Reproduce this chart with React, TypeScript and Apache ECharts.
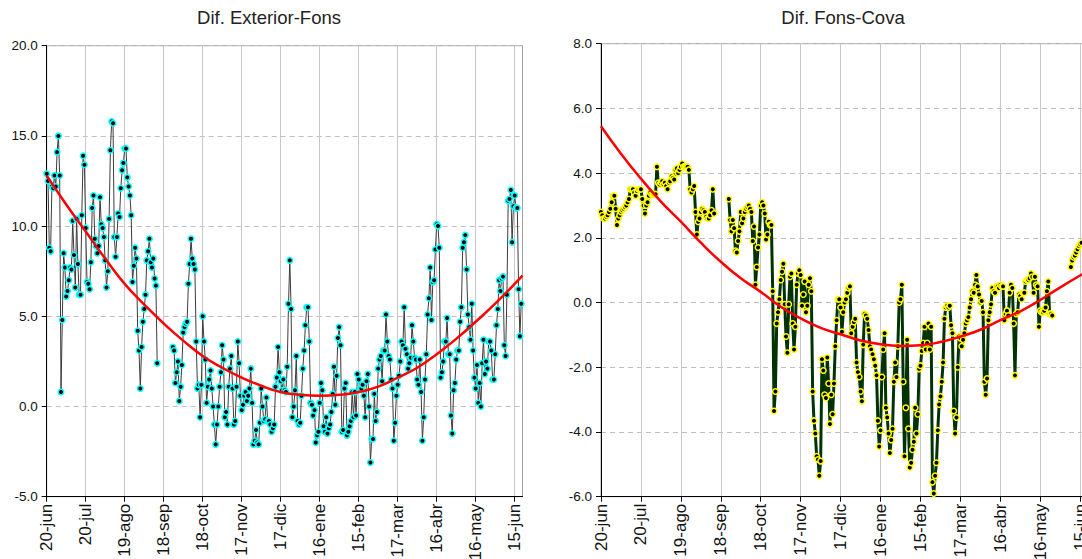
import React, { useEffect, useRef } from "react";
import * as echarts from "echarts";

// x axis: days counted from 20-jun (day 0)
const tickDays = [0, 30, 60, 90, 120, 150, 180, 210, 240, 270, 300, 330, 360];
const tickLabels = [
  "20-jun", "20-jul", "19-ago", "18-sep", "18-oct", "17-nov", "17-dic",
  "16-ene", "15-feb", "17-mar", "16-abr", "16-may", "15-jun",
];

// Dif. Exterior-Fons, one value per day (null = no data)
const exteriorFons: (number | null)[] = [
  12.9, 12.5, 8.8, 8.6, 12.2, 12.1, 12.8, 12.2, 14.1, 15.0,
  12.8, 0.8, 4.8, 8.5, 7.7, 6.1, 6.4, 7.0, 7.7, 7.6,
  10.3, 8.4, 6.6, 10.4, 7.9, 6.2, 6.2, 10.6, 13.9, 13.4,
  9.9, 6.9, 6.8, 6.5, 8.0, 11.0, 11.7, 9.3, 8.9, 8.5,
  8.9, 11.6, 10.1, 9.9, 9.4, 8.1, 6.6, 7.5, 10.4, 14.2,
  15.8, 15.7, 9.4, 8.3, 9.4, 10.7, 10.5, 12.1, 13.1, 13.5,
  14.3, 14.3, 12.7, 12.2, 11.7, 10.6, 6.9, 7.8, 8.8, 8.2,
  4.2, 3.1, 1.0, 3.3, 4.7, 5.4, 6.2, 8.1, 8.6, 9.3,
  8.0, 7.7, 8.2, 7.1, 6.7, 2.4, null, null, null, null,
  null, null, null, null, null, null, null, 3.3, 3.1, 1.3,
  1.9, 2.5, 0.3, 1.1, 2.3, 4.1, 4.4, 4.6, 4.7, 6.8,
  7.9, 9.3, 8.2, 7.9, 7.6, 3.6, 1.0, 1.2, -0.6, 1.2,
  5.0, 3.6, 2.6, 0.2, 1.1, 1.5, 2.0, 1.0, 0.0, -1.0,
  -2.1, -1.0, 0.0, 1.1, 1.9, 3.4, 2.6, -0.6, -0.3, -1.0,
  1.1, 2.1, 2.8, 1.0, -1.0, -0.8, 1.1, 3.6, 2.4, 0.6,
  -0.2, 0.1, 0.6, 0.8, 0.3, 0.6, 1.0, 2.1, 0.2, -2.1,
  -1.9, -1.3, -2.0, -2.1, -0.9, 1.0, 0.0, -0.8, -0.7, 0.5,
  -0.8, -0.8, -1.0, -1.4, -1.2, -1.0, 1.1, 1.6, 3.3, 1.9,
  1.4, 0.9, 1.5, 0.9, 0.8, 2.2, 5.7, 8.1, 5.4, -0.6,
  0.0, 0.9, 2.8, -0.8, -1.0, -0.9, 0.6, 2.1, 3.1, 4.5,
  5.5, 5.5, 3.6, 0.2, 0.1, -0.5, -0.2, -2.0, -1.6, -1.4,
  0.2, 1.3, 0.9, -1.1, -1.4, -0.6, -1.5, -1.2, -1.0, -0.3,
  0.7, 2.2, 0.1, 1.7, 3.8, 4.4, 3.4, -1.4, -1.3, 1.0,
  1.3, -1.6, -1.4, -1.1, -0.8, 0.8, -0.6, 0.8, -0.5, 1.8,
  1.5, 1.0, 1.0, 1.2, 0.6, -0.6, 1.4, 1.8, 0.0, -3.1,
  -1.8, -1.8, 0.7, -0.8, -0.3, 2.1, 2.6, 2.8, 1.4, 3.1,
  3.1, 5.1, 3.6, 2.8, 2.6, 1.5, 1.0, -1.9, -0.9, 0.6,
  1.2, 1.7, 2.5, 3.6, 3.4, 5.5, 3.2, 2.9, 2.1, 2.4,
  2.7, 4.5, 3.6, 2.7, 2.6, 1.5, 1.2, 2.6, 0.8, -1.9,
  -0.6, 1.5, 2.9, 5.1, 6.0, 7.7, 4.8, 6.9, 7.0, 8.7,
  10.1, 10.0, 8.8, 1.6, 1.9, 2.5, 3.6, 3.6, 4.9, 2.9,
  2.9, -0.5, -1.5, 0.9, 1.3, 2.6, 3.1, 3.1, 4.7, 5.5,
  8.8, 9.1, 9.5, 7.6, 5.1, 4.4, 3.7, 5.7, 3.1, 1.6,
  1.0, 2.3, 0.2, 1.3, 0.0, 2.4, 3.7, 1.8, 2.5, 2.1,
  3.6, 3.6, 3.1, 1.5, 1.5, 2.9, 4.5, 5.4, 7.0, 6.4,
  7.1, 7.2, 3.4, 2.8, 6.2, 11.4, 11.5, 12.0, 9.1, 11.1,
  11.7, 11.0, 11.0, 6.5, 3.9, 5.7,
];

// Dif. Fons-Cova, one value per day (null = no data)
const fonsCova: (number | null)[] = [
  2.8, 2.7, 2.6, 2.6, 2.65, 2.7, 2.8, 2.9, 3.1, 3.3,
  3.3, 2.9, 2.4, 2.6, 2.7, 2.8, 2.85, 2.9, 2.95, 3.0,
  3.1, 3.2, 3.5, 3.5, 3.5, 3.4, 3.3, 3.45, 3.5, 3.5,
  3.5, 3.2, 3.0, 2.75, 3.0, 3.1, 3.3, 3.4, 3.35, 3.35,
  3.35, 3.35, 4.2, 3.7, 3.65, 3.7, 3.75, 3.65, 3.7, 3.6,
  3.5, 3.7, 3.75, 3.9, 3.85, 3.8, 4.1, 4.15, 4.0, 4.1,
  4.2, 4.3, 4.2, 4.2, 4.2, 4.2, 4.1, 3.5, 3.4, 3.5,
  3.6, 2.8, 2.1, 2.5, 2.6, 2.8, 2.9, 2.85, 2.8, 2.65,
  2.6, 2.6, 2.7, 2.85, 3.5, 2.75, null, null, null, null,
  null, null, null, null, null, null, 3.2, 2.55, 2.2, 2.55,
  2.3, 1.6, 1.55, 1.9, 2.2, 2.8, 2.45, 2.6, 2.8, 2.9,
  2.95, 3.0, 2.9, 2.8, 1.9, 2.35, 0.55, 1.1, 1.7, 2.1,
  3.0, 3.1, 3.0, 2.75, 1.95, 2.1, 2.5, 2.4, 2.4, 0.35,
  -3.35, -2.75, -0.65, -0.3, 0.1, 0.7, 0.95, 1.2, -0.05, -1.05,
  -1.55, -0.05, 0.8, 0.9, -0.65, -1.45, -0.75, 0.55, 0.9, 1.0,
  0.85, -0.1, 0.25, 0.65, -0.3, -0.1, 0.55, 0.75, 0.35, -2.75,
  -3.65, -4.05, -4.75, -4.85, -5.35, -4.9, -1.75, -2.1, -2.85, -2.95,
  -1.7, -2.5, -3.75, -2.85, -3.45, -2.5, -1.35, -0.55, 0.1, 0.1,
  -0.15, -0.9, -0.3, 0.0, 0.1, 0.3, 0.45, 0.5, -0.95, -0.75,
  -0.6, -0.5, -1.85, -2.15, -2.3, -2.75, -3.05, -1.3, -0.35, -0.4,
  -0.5, -0.85, -1.35, -1.45, -1.6, -1.75, -1.95, -2.25, -3.65, -4.45,
  -3.95, -2.3, -1.45, -0.95, -3.25, -3.55, -4.05, -4.65, -4.25, -3.9,
  -2.45, -1.85, -2.3, -1.35, 0.0, 0.1, 0.55, -2.45, -4.75, -3.25,
  -1.15, -3.9, -5.1, -4.95, -4.55, -4.3, -3.25, -4.05, -3.45, -2.05,
  -1.95, -1.5, -1.25, -0.75, -1.45, -1.25, -0.65, -1.45, -0.75, -5.55,
  -5.9, -5.35, -4.95, -3.95, -3.15, -2.9, -2.45, -1.85, -0.5, -0.15,
  -0.1, -0.15, -0.1, -0.7, -0.95, -3.35, -4.05, -3.55, -2.0, -1.05,
  -1.1, -1.35, -1.15, -0.95, -0.65, -0.55, -0.45, -0.15, 0.1, 0.35,
  0.3, 0.55, 0.85, 0.5, 0.25, 0.0, 0.05, -0.3, -2.45, -2.85,
  -2.35, -0.55, -0.3, -0.05, 0.45, 0.35, 0.3, 0.5, 0.5, 0.45,
  0.55, 0.5, 0.5, -0.55, -0.35, -0.25, -0.4, 0.3, 0.55, 0.45,
  -0.65, -2.25, -0.35, -0.3, 0.25, 0.2, 0.1, 0.3, 0.3, 0.65,
  0.7, 0.7, 0.75, 0.9, 0.8, 0.3, 0.8, 0.55, 0.5, -0.75,
  -0.25, -0.3, -0.3, -0.25, -0.15, 0.35, 0.65, -0.35, -0.35, -0.4,
  null, null, null, null, null, null, null, null, null, null,
  null, null, null, 1.1, 1.3, 1.4, 1.45, 1.55, 1.65, 1.75,
  1.8, 1.85,
];

// polynomial trend lines
const trendExtDays = [0, 15, 30, 45, 60, 75, 90, 105, 120, 135, 150, 165, 180, 195, 210, 225, 240, 255, 270, 285, 300, 315, 330, 345, 366];
const trendExtVals = [12.8, 11.2, 9.7, 8.2, 6.8, 5.65, 4.6, 3.65, 2.8, 2.15, 1.6, 1.15, 0.8, 0.65, 0.6, 0.65, 0.8, 1.1, 1.6, 2.15, 2.9, 3.75, 4.7, 5.7, 7.25];
const trendCovaDays = [0, 15, 30, 45, 60, 75, 90, 105, 120, 135, 150, 165, 180, 195, 210, 225, 240, 255, 270, 285, 300, 315, 330, 345, 366];
const trendCovaVals = [5.45, 4.6, 3.83, 3.12, 2.5, 1.85, 1.26, 0.75, 0.33, -0.13, -0.49, -0.78, -0.98, -1.17, -1.29, -1.34, -1.32, -1.22, -1.05, -0.84, -0.54, -0.27, 0.08, 0.47, 0.98];

const FONT = "'Liberation Sans', Arial, sans-serif";

function toPairs(vals: (number | null)[]) {
  return vals.map((v, d) => [d, v === null ? "-" : v]);
}

function xAxisFor(gridIndex: number) {
  return {
    type: "value",
    gridIndex,
    min: 0,
    max: 366,
    interval: 30,
    axisLine: { show: true, onZero: false, lineStyle: { color: "#000", width: 1 } },
    axisTick: { show: true, length: 5, customValues: tickDays, lineStyle: { color: "#000" } },
    axisLabel: {
      customValues: tickDays,
      rotate: 90,
      margin: 7,
      fontSize: 17,
      color: "#111",
      fontFamily: FONT,
      hideOverlap: false,
      formatter: (v: number) => {
        const i = tickDays.indexOf(v);
        return i >= 0 ? tickLabels[i] : "";
      },
    },
    splitLine: { show: true, lineStyle: { color: "#c8c8c8", width: 1 } },
  };
}

function yAxisFor(gridIndex: number, min: number, max: number, interval: number) {
  return {
    type: "value",
    gridIndex,
    min,
    max,
    interval,
    axisLine: { show: true, onZero: false, lineStyle: { color: "#000", width: 1 } },
    axisTick: { show: true, length: 5, lineStyle: { color: "#000" } },
    axisLabel: {
      margin: 9,
      fontSize: 13.5,
      color: "#111",
      fontFamily: FONT,
      formatter: (v: number) => v.toFixed(1),
    },
    splitLine: { show: true, lineStyle: { color: "#c0c0c0", width: 1, type: [5, 4] } },
  };
}

export default function App() {
  const ref = useRef<HTMLDivElement>(null);
  useEffect(() => {
    if (!ref.current) return;
    const chart = echarts.init(ref.current, undefined, { renderer: "svg" });
    chart.setOption({
      animation: false,
      backgroundColor: "#fff",
      textStyle: { fontFamily: FONT },
      graphic: [
        {
          type: "text",
          x: 269,
          y: 17,
          style: { text: "Dif. Exterior-Fons", fontSize: 18.5, fontWeight: "normal", fontFamily: FONT, fill: "#222", textAlign: "center", textVerticalAlign: "middle" },
        },
        {
          type: "text",
          x: 843,
          y: 17,
          style: { text: "Dif. Fons-Cova", fontSize: 18.5, fontWeight: "normal", fontFamily: FONT, fill: "#222", textAlign: "center", textVerticalAlign: "middle" },
        },
      ],
      grid: [
        { left: 46.7, top: 45.7, width: 475.8, height: 451, containLabel: false, outerBoundsMode: "none", show: true, borderColor: "#a0a0a0", borderWidth: 1, backgroundColor: "transparent" },
        { left: 601, top: 43.7, width: 487.2, height: 453, containLabel: false, outerBoundsMode: "none", show: true, borderColor: "#a0a0a0", borderWidth: 1, backgroundColor: "transparent" },
      ],
      xAxis: [xAxisFor(0), xAxisFor(1)],
      yAxis: [yAxisFor(0, -5, 20, 5), yAxisFor(1, -6, 8, 2)],
      series: [
        {
          type: "line",
          xAxisIndex: 0,
          yAxisIndex: 0,
          data: toPairs(exteriorFons),
          connectNulls: false,
          showAllSymbol: true,
          symbol: "circle",
          symbolSize: 5.5,
          lineStyle: { color: "#3c3c3c", width: 1 },
          itemStyle: { color: "#000", borderColor: "#00ffff", borderWidth: 1.5 },
          z: 2,
        },
        {
          type: "line",
          xAxisIndex: 0,
          yAxisIndex: 0,
          data: trendExtDays.map((d, i) => [d, trendExtVals[i]]),
          smooth: true,
          symbol: "none",
          lineStyle: { color: "#ff0000", width: 2.5 },
          z: 3,
        },
        {
          type: "line",
          xAxisIndex: 1,
          yAxisIndex: 1,
          data: toPairs(fonsCova),
          connectNulls: false,
          showAllSymbol: true,
          symbol: "circle",
          symbolSize: 5.5,
          lineStyle: { color: "#003300", width: 3 },
          itemStyle: { color: "#000", borderColor: "#ffff00", borderWidth: 1.5 },
          z: 2,
        },
        {
          type: "line",
          xAxisIndex: 1,
          yAxisIndex: 1,
          data: trendCovaDays.map((d, i) => [d, trendCovaVals[i]]),
          smooth: true,
          symbol: "none",
          lineStyle: { color: "#ff0000", width: 2.5 },
          z: 3,
        },
      ],
    });
    return () => chart.dispose();
  }, []);
  return (
    <div
      ref={ref}
      style={{ position: "fixed", left: 0, top: 0, width: 1082, height: 559, background: "#fff" }}
    />
  );
}
